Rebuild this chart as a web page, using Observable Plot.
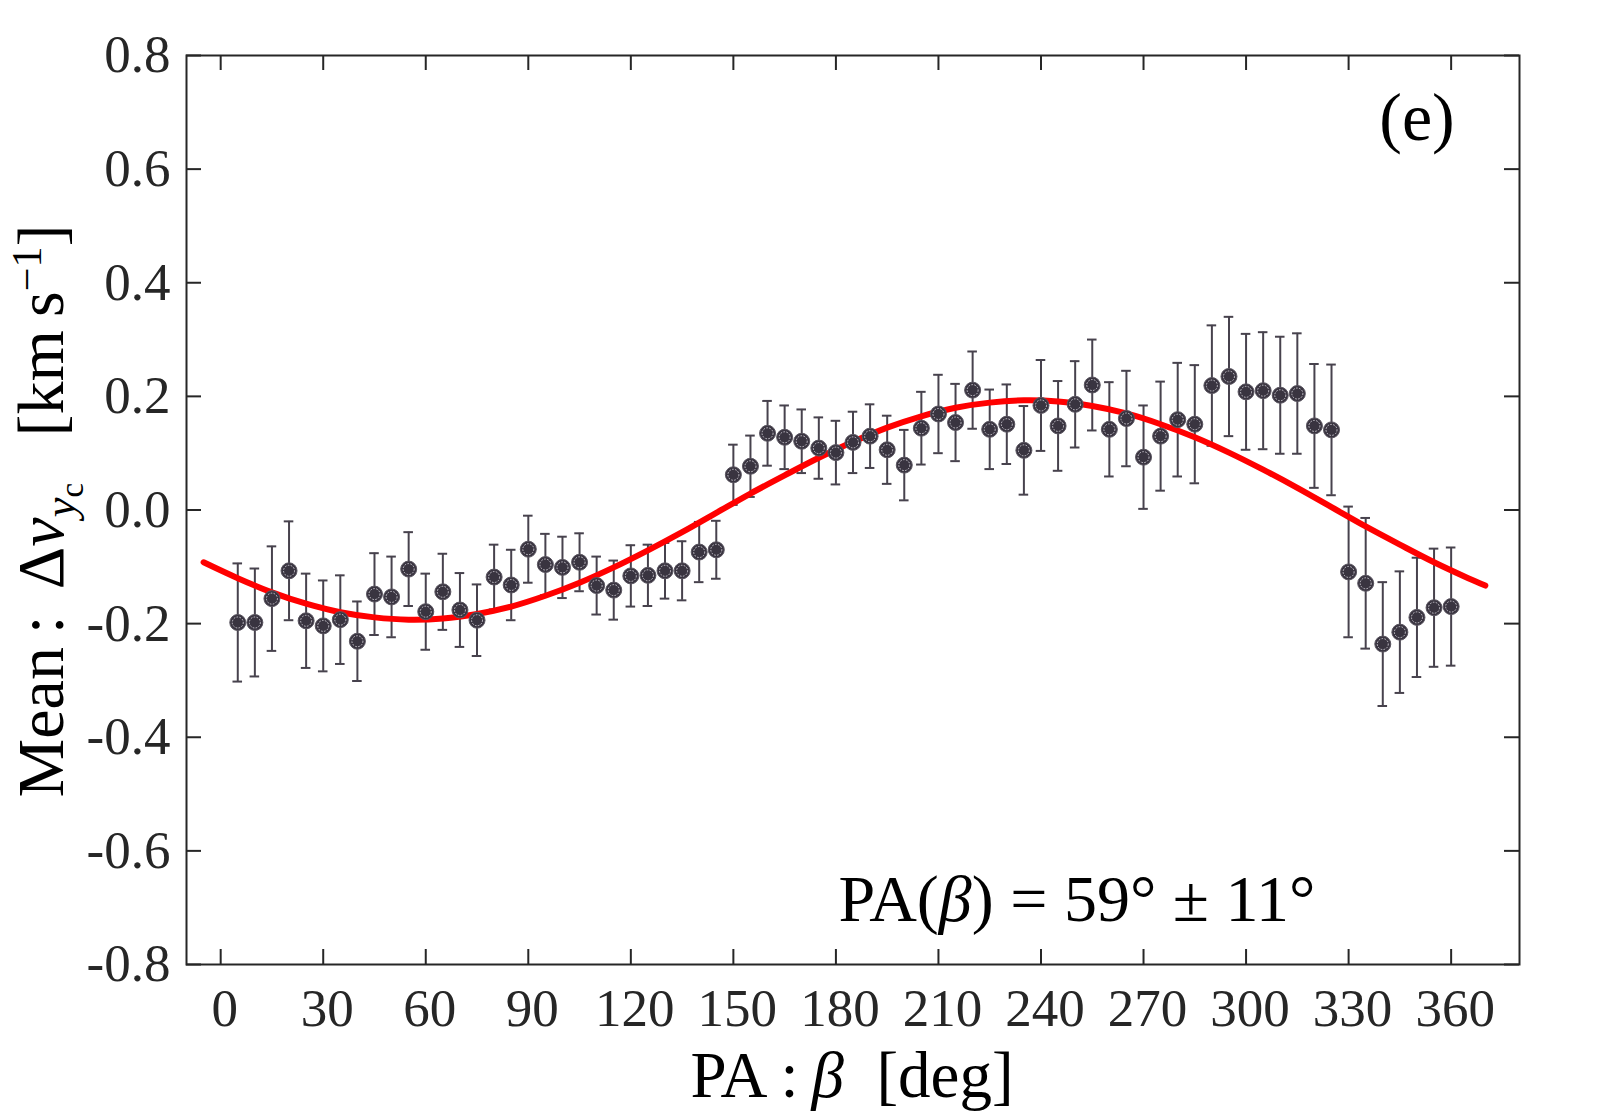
<!DOCTYPE html>
<html>
<head>
<meta charset="utf-8">
<script src="https://cdn.jsdelivr.net/npm/d3@7"></script>
<script src="https://cdn.jsdelivr.net/npm/@observablehq/plot@0.6"></script>
<style>
  html, body { margin: 0; padding: 0; background: #ffffff; }
  #chart { width: 1600px; height: 1120px; }
</style>
</head>
<body>
<div id="chart"></div>
<script>
// ---- data ----
const pa = [5,10,15,20,25,30,35,40,45,50,
            55,60,65,70,75,80,85,90,95,100,
            105,110,115,120,125,130,135,140,145,150,
            155,160,165,170,175,180,185,190,195,200,
            205,210,215,220,225,230,235,240,245,250,
            255,260,265,270,275,280,285,290,295,300,
            305,310,315,320,325,330,335,340,345,350,
            355,360];
const meanV = [-0.198,-0.198,-0.156,-0.107,-0.195,-0.204,-0.193,-0.231,-0.148,-0.153,
               -0.104,-0.179,-0.144,-0.176,-0.194,-0.118,-0.132,-0.069,-0.096,-0.101,
               -0.092,-0.133,-0.141,-0.116,-0.115,-0.107,-0.107,-0.074,-0.070,0.062,
               0.077,0.135,0.128,0.121,0.109,0.101,0.119,0.130,0.106,0.079,
               0.144,0.169,0.154,0.211,0.142,0.151,0.105,0.184,0.148,0.186,
               0.220,0.142,0.161,0.093,0.130,0.159,0.151,0.219,0.235,0.208,
               0.210,0.202,0.205,0.148,0.141,-0.109,-0.129,-0.236,-0.215,-0.189,
               -0.172,-0.170];
const errV = [0.104,0.095,0.092,0.087,0.083,0.080,0.078,0.070,0.072,0.071,
              0.065,0.067,0.067,0.065,0.063,0.057,0.062,0.059,0.054,0.054,
              0.051,0.051,0.052,0.054,0.054,0.049,0.052,0.053,0.051,0.053,
              0.054,0.057,0.056,0.056,0.054,0.056,0.054,0.056,0.060,0.062,
              0.064,0.069,0.068,0.068,0.070,0.070,0.078,0.080,0.079,0.076,
              0.080,0.083,0.084,0.091,0.096,0.100,0.104,0.106,0.105,0.102,
              0.103,0.103,0.106,0.109,0.115,0.115,0.115,0.109,0.107,0.105,
              0.104,0.104];
// fitted sinusoid (red curve)
const fitPA = [-5,5,15,25,35,45,55,65,75,85,95,105,115,125,135,145,155,165,175,185,
               195,205,215,225,235,245,255,265,275,285,295,305,315,325,335,345,355,365,370];
const fitV = [-0.092,-0.120,-0.145,-0.165,-0.180,-0.189,-0.193,-0.191,-0.183,-0.170,
              -0.151,-0.128,-0.101,-0.071,-0.039,-0.005,0.029,0.061,0.092,0.120,
              0.145,0.165,0.180,0.189,0.193,0.191,0.183,0.170,0.151,0.128,
              0.101,0.071,0.039,0.005,-0.029,-0.061,-0.092,-0.120,-0.133];
const xTicks = [0,30,60,90,120,150,180,210,240,270,300,330,360];
const yTicks = [-0.8,-0.6,-0.4,-0.2,0,0.2,0.4,0.6,0.8];

// ---- layout / style ----
const W = 1600, H = 1120;
const mL = 186, mR = 81, mT = 55, mB = 156;
const plotW = W - mL - mR, plotH = H - mT - mB;
const serif = "'Liberation Serif', 'Times New Roman', Times, serif";
const dark = "#262626";
const barC = "#47424d";
const dotC = "#393440";
const tickLen = 15;

const pts = pa.map((p, i) => ({pa: p, v: meanV[i], e: errV[i]}));
const fit = fitPA.map((p, i) => ({pa: p, v: fitV[i]}));

const chart = Plot.plot({
  width: W, height: H,
  marginLeft: mL, marginRight: mR, marginTop: mT, marginBottom: mB,
  style: {fontFamily: serif, background: "#ffffff", overflow: "visible"},
  x: {domain: [-10, 380], label: null},
  y: {domain: [-0.8, 0.8], label: null},
  marks: [
    // inward ticks on all four sides
    Plot.tickX(xTicks, {x: d => d, stroke: dark, strokeWidth: 2, insetTop: plotH - tickLen}),
    Plot.tickX(xTicks, {x: d => d, stroke: dark, strokeWidth: 2, insetBottom: plotH - tickLen}),
    Plot.tickY(yTicks, {y: d => d, stroke: dark, strokeWidth: 2, insetRight: plotW - tickLen}),
    Plot.tickY(yTicks, {y: d => d, stroke: dark, strokeWidth: 2, insetLeft: plotW - tickLen}),
    Plot.axisX({ticks: xTicks, tickSize: 0, tickPadding: 24, fontSize: 53, color: dark, label: null, dx: 4}),
    Plot.axisY({ticks: yTicks, tickSize: 0, tickPadding: 16, fontSize: 53, color: dark, label: null,
                tickFormat: d => d.toFixed(1)}),
    // error bars
    Plot.ruleX(pts, {x: "pa", y1: d => d.v - d.e, y2: d => d.v + d.e, stroke: barC, strokeWidth: 2}),
    Plot.ruleY(pts, {y: d => d.v + d.e, x1: d => d.pa - 1.4, x2: d => d.pa + 1.4, stroke: barC, strokeWidth: 2}),
    Plot.ruleY(pts, {y: d => d.v - d.e, x1: d => d.pa - 1.4, x2: d => d.pa + 1.4, stroke: barC, strokeWidth: 2}),
    // fit curve
    Plot.line(fit, {x: "pa", y: "v", stroke: "#ff0000", strokeWidth: 6, curve: "catmull-rom"}),
    // markers
    Plot.dot(pts, {x: "pa", y: "v", r: 8, fill: dotC, stroke: "#5a5560", strokeWidth: 1}),
    Plot.dot(pts, {x: "pa", y: "v", r: 5.5, fill: "none", stroke: "#d6d2da", strokeWidth: 0.9, strokeDasharray: "1.6 1.4"}),
    Plot.frame({stroke: dark, strokeWidth: 2})
  ]
});
document.getElementById("chart").appendChild(chart);

// ---- rich-text labels ----
const svg = d3.select(chart);

// y-axis title: Mean : Δv_{y_c} [km s^{-1}]
const yl = svg.append("text")
  .attr("transform", "translate(63,511) rotate(-90)")
  .attr("text-anchor", "middle")
  .attr("font-family", serif)
  .attr("font-size", 66)
  .attr("fill", "#000");
yl.append("tspan").text("Mean\u2009:\u2009\u2009Δ");
yl.append("tspan").attr("font-style", "italic").text("v");
yl.append("tspan").attr("font-style", "italic").attr("font-size", 45).attr("dy", 12).text("y");
yl.append("tspan").attr("font-size", 33).attr("dy", 8).text("c");
yl.append("tspan").attr("dy", -20).text("\u2002\u2009[km\u2009s");
yl.append("tspan").attr("font-size", 42).attr("dy", -22).text("\u22121");
yl.append("tspan").attr("dy", 22).text("]");

// x-axis title: PA : β [deg]
const xl = svg.append("text")
  .attr("x", 852).attr("y", 1097)
  .attr("text-anchor", "middle")
  .attr("font-family", serif)
  .attr("font-size", 65)
  .attr("fill", "#000");
xl.append("tspan").text("PA\u2009:\u2009");
xl.append("tspan").attr("font-style", "italic").text("β");
xl.append("tspan").text("\u2002[deg]");

// annotation: PA(β) = 59° ± 11°
const an = svg.append("text")
  .attr("x", 1077).attr("y", 921)
  .attr("text-anchor", "middle")
  .attr("font-family", serif)
  .attr("font-size", 66)
  .attr("fill", "#000");
an.append("tspan").text("PA(");
an.append("tspan").attr("font-style", "italic").text("β");
an.append("tspan").text(") = 59° ± 11°");

// panel label
svg.append("text")
  .attr("x", 1417).attr("y", 140)
  .attr("text-anchor", "middle")
  .attr("font-family", serif)
  .attr("font-size", 68)
  .attr("fill", "#000")
  .text("(e)");
</script>
</body>
</html>
